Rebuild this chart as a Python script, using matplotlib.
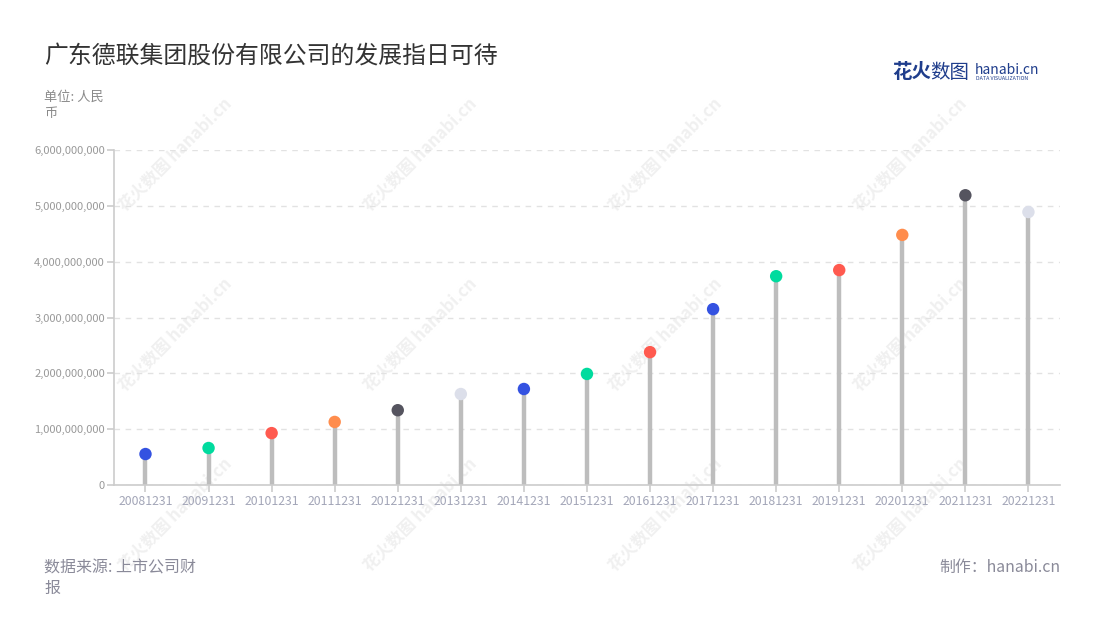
import matplotlib
matplotlib.use("Agg")
import matplotlib.pyplot as plt
from matplotlib.ticker import FuncFormatter, MultipleLocator

plt.rcParams['font.family'] = ['Noto Sans CJK SC', 'DejaVu Sans']

# data
dates = ["20081231", "20091231", "20101231", "20111231", "20121231",
         "20131231", "20141231", "20151231", "20161231", "20171231",
         "20181231", "20191231", "20201231", "20211231", "20221231"]
values = [0.555e9, 0.663e9, 0.93e9, 1.13e9, 1.34e9,
          1.63e9, 1.72e9, 1.99e9, 2.38e9, 3.15e9,
          3.74e9, 3.85e9, 4.48e9, 5.19e9, 4.89e9]
dot_colors = ["#3452E1", "#00DB9E", "#FF5A4F", "#FF8D4D", "#55545F",
              "#DCDFEA", "#3452E1", "#00DB9E", "#FF5A4F", "#3452E1",
              "#00DB9E", "#FF5A4F", "#FF8D4D", "#55545F", "#DCDFEA"]

fig = plt.figure(figsize=(11, 6.2), dpi=100)
ax = fig.add_axes([0.1036, 0.2177, 0.86, 0.5403])
ax.set_zorder(2)
ax.patch.set_alpha(0)

x = list(range(len(dates)))
ax.vlines(x, 0, values, color="#BDBDBD", lw=3.2, zorder=2)
ax.scatter(x, values, s=80, c=dot_colors, zorder=3, linewidths=0)

ax.set_xlim(-0.5, len(dates) - 0.5)
ax.set_ylim(0, 6e9)
ax.yaxis.set_major_locator(MultipleLocator(1e9))
ax.yaxis.set_major_formatter(FuncFormatter(lambda v, p: f"{int(v):,}"))
ax.set_xticks(x)
ax.set_xticklabels(dates)

ax.grid(axis="y", color="#E2E2E2", linestyle=(0, (4, 4)), lw=1)
ax.set_axisbelow(True)
for s in ["top", "right"]:
    ax.spines[s].set_visible(False)
for s in ["left", "bottom"]:
    ax.spines[s].set_color("#CCCCCC")
    ax.spines[s].set_linewidth(1.2)
ax.tick_params(axis="y", colors="#CCCCCC", labelcolor="#999999", labelsize=8.0,
               length=5, width=1.2, pad=1.5)
ax.tick_params(axis="x", colors="#CCCCCC", labelcolor="#A3A6B8", labelsize=8.8,
               length=5, width=1.2, pad=2)

# faint watermarks behind the chart
for wx in [175, 420, 665, 910]:
    for wy in [155, 335, 515]:
        fig.text(wx / 1100, 1 - wy / 620, "花火数图 hanabi.cn", rotation=45,
                 fontsize=12, color="#F0F0F0", ha="center", va="center",
                 fontweight="bold", zorder=0)

fig.text(44 / 1100, 1 - 56 / 620, "广东德联集团股份有限公司的发展指日可待", fontsize=17.2,
         color="#333333", ha="left", va="center")
fig.text(44 / 1100, 1 - 105 / 620, "单位: 人民\n币", fontsize=9.5, color="#8A8A8A",
         ha="left", va="center", linespacing=1.3)
fig.text(44 / 1100, 1 - 578 / 620, "数据来源: 上市公司财\n报", fontsize=11.5,
         color="#8A8A99", ha="left", va="center", linespacing=1.25)
fig.text(1060 / 1100, 1 - 567 / 620, "制作：hanabi.cn", fontsize=11.4,
         color="#8A8A99", ha="right", va="center")

# logo
fig.text(892 / 1100, 1 - 72 / 620, "花火", fontsize=14, color="#1F3D8C",
         fontweight="bold", ha="left", va="center")
fig.text(930 / 1100, 1 - 72 / 620, "数图", fontsize=14, color="#1F3D8C",
         ha="left", va="center")
fig.text(975 / 1100, 1 - 70 / 620, "hanabi.cn", fontsize=10, color="#1F3D8C",
         ha="left", va="center")
fig.text(976 / 1100, 1 - 79 / 620, "DATA VISUALIZATION", fontsize=3.8,
         color="#1F3D8C", ha="left", va="center")

fig.savefig("out.png", dpi=100, facecolor="white")
